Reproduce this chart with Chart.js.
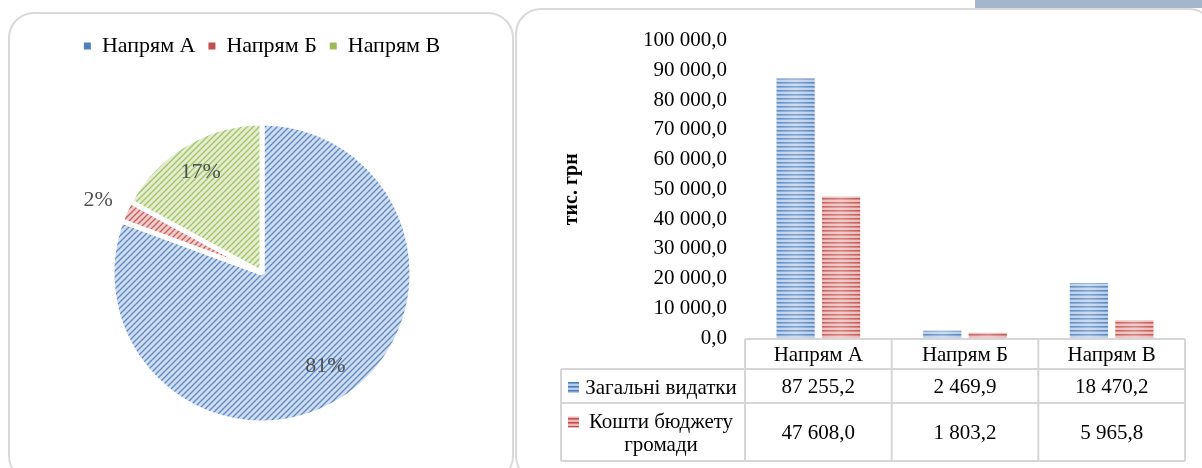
<!DOCTYPE html>
<html>
<head>
<meta charset="utf-8">
<script src="https://cdn.jsdelivr.net/npm/chart.js@4.4.1/dist/chart.umd.min.js"></script>
<style>
  html, body { margin:0; padding:0; background:#ffffff; width:1202px; height:468px; overflow:hidden; position:relative; }
  .panel { position:absolute; border:2px solid #d9d9d9; border-radius:26px; background:#fff; box-sizing:border-box; }
  #topbar { position:absolute; left:975px; top:0; width:227px; height:8px; background:#a3b6cc; }
  canvas { position:absolute; }
</style>
</head>
<body>
<div id="topbar"></div>
<div class="panel" style="left:8px; top:12px; width:506px; height:470px;"></div>
<div class="panel" style="left:515px; top:8px; width:700px; height:474px;"></div>
<canvas id="pie" width="500" height="454" style="left:12px; top:14px;"></canvas>
<canvas id="bar" width="684" height="458" style="left:518px; top:10px;"></canvas>
<script>
// ---------- DATA ----------
const categories = ['Напрям А', 'Напрям Б', 'Напрям В'];
const seriesNames = ['Загальні видатки', 'Кошти бюджету громади'];
const totalExpenses = [87255.2, 2469.9, 18470.2];
const communityBudget = [47608.0, 1803.2, 5965.8];
const yAxisTitle = 'тис. грн';
const yMin = 0;
const yMax = 100000;
const yStep = 10000;

// ---------- HELPERS ----------
const SERIF = "'Liberation Serif', 'Times New Roman', serif";
function fmt(v) {
  const p = Math.abs(v).toFixed(1).split('.');
  return p[0].replace(/\B(?=(\d{3})+(?!\d))/g, ' ') + ',' + p[1];
}
function diagPattern(ctx, bg, fg) {
  const c = document.createElement('canvas'); c.width = 6; c.height = 6;
  const x = c.getContext('2d');
  x.fillStyle = bg; x.fillRect(0, 0, 6, 6);
  x.strokeStyle = fg; x.lineWidth = 1.3; x.lineCap = 'butt';
  x.beginPath();
  x.moveTo(-1, 7); x.lineTo(7, -1);
  x.moveTo(-1, 1); x.lineTo(1, -1);
  x.moveTo(5, 7); x.lineTo(7, 5);
  x.stroke();
  return ctx.createPattern(c, 'repeat');
}
function stripePattern(ctx, light, mid, dark) {
  const c = document.createElement('canvas'); c.width = 4; c.height = 4;
  const x = c.getContext('2d');
  x.fillStyle = light; x.fillRect(0, 0, 4, 4);
  x.fillStyle = dark; x.fillRect(0, 0, 4, 1);
  x.fillStyle = mid; x.fillRect(0, 1, 4, 1);
  return ctx.createPattern(c, 'repeat');
}

// ---------- PIE ----------
const pieCtx = document.getElementById('pie').getContext('2d');
const piePatterns = [
  diagPattern(pieCtx, '#d0ddf0', '#5a89c4'),
  diagPattern(pieCtx, '#f0cccb', '#c85e5b'),
  diagPattern(pieCtx, '#e3edcf', '#a3c266')
];
const legendColors = ['#4f81bd', '#c0504d', '#9bbb59'];
const labelFrac = [0.74, 1.2, 0.8];

new Chart(pieCtx, {
  type: 'pie',
  data: {
    labels: categories,
    datasets: [{
      data: totalExpenses,
      backgroundColor: piePatterns,
      borderColor: '#ffffff',
      borderWidth: 5,
      radius: 150
    }]
  },
  options: {
    responsive: false,
    animation: false,
    layout: { padding: { top: 8, bottom: 46, left: 0, right: 0 } },
    plugins: {
      tooltip: { enabled: false },
      legend: {
        position: 'top',
        labels: {
          font: { family: SERIF, size: 22 },
          color: '#595959',
          boxWidth: 7,
          boxHeight: 7,
          padding: 13,
          generateLabels(chart) {
            return chart.data.labels.map((l, i) => ({
              text: l, fillStyle: legendColors[i], strokeStyle: legendColors[i],
              lineWidth: 0, hidden: false, index: i
            }));
          }
        }
      }
    }
  },
  plugins: [{
    id: 'legendHeight',
    beforeInit(chart) {
      const orig = chart.legend.fit;
      chart.legend.fit = function () { orig.call(this); this.height = 102; };
    }
  }, {
    id: 'pieLabels',
    afterDatasetsDraw(chart) {
      const ctx = chart.ctx;
      const meta = chart.getDatasetMeta(0);
      const data = chart.data.datasets[0].data;
      const total = data.reduce((a, b) => a + b, 0);
      ctx.save();
      ctx.font = '22px ' + SERIF;
      ctx.fillStyle = '#505050';
      ctx.textAlign = 'center';
      ctx.textBaseline = 'middle';
      meta.data.forEach((arc, i) => {
        const mid = (arc.startAngle + arc.endAngle) / 2;
        const r = arc.outerRadius * labelFrac[i];
        ctx.fillText(Math.round(data[i] / total * 100) + '%', arc.x + Math.cos(mid) * r, arc.y + Math.sin(mid) * r + 2);
      });
      ctx.restore();
    }
  }]
});

// ---------- BAR ----------
const barCtx = document.getElementById('bar').getContext('2d');
const barPatterns = [
  stripePattern(barCtx, '#b8cde9', '#7aa0d2', '#4a7dbb'),
  stripePattern(barCtx, '#ebb8b7', '#d27d7b', '#bf4d4a')
];

const tableLayout = { rowH: [30, 34, 58], labelLeft: 43, border: '#d6d6d6' };

new Chart(barCtx, {
  type: 'bar',
  data: {
    labels: categories,
    datasets: [
      { label: seriesNames[0], data: totalExpenses, backgroundColor: barPatterns[0], borderWidth: 0, categoryPercentage: 0.62, barPercentage: 0.84 },
      { label: seriesNames[1], data: communityBudget, backgroundColor: barPatterns[1], borderWidth: 0, categoryPercentage: 0.62, barPercentage: 0.84 }
    ]
  },
  options: {
    responsive: false,
    animation: false,
    layout: { padding: { top: 23, bottom: 130, left: 42, right: 17 } },
    plugins: { legend: { display: false }, tooltip: { enabled: false } },
    scales: {
      x: { display: false },
      y: {
        min: yMin, max: yMax,
        grid: { display: false, drawTicks: false },
        border: { display: false },
        ticks: {
          stepSize: yStep,
          padding: 18,
          color: '#000000',
          font: { family: SERIF, size: 21 },
          callback: (v) => fmt(v)
        },
        title: {
          display: true, text: yAxisTitle, color: '#000000',
          font: { family: SERIF, size: 20, weight: 'bold' },
          padding: { top: 0, bottom: 0 }
        },
        afterFit(scale) { scale.width = 185; }
      }
    }
  },
  plugins: [{
    id: 'barShade',
    afterDatasetsDraw(chart) {
      const ctx = chart.ctx;
      chart.data.datasets.forEach((ds, di) => {
        chart.getDatasetMeta(di).data.forEach((el) => {
          const p = el.getProps(['x', 'y', 'base', 'width'], true);
          const l = p.x - p.width / 2;
          const g = ctx.createLinearGradient(l, 0, l + p.width, 0);
          g.addColorStop(0, 'rgba(255,255,255,0.1)');
          g.addColorStop(0.5, 'rgba(255,255,255,0.3)');
          g.addColorStop(1, 'rgba(255,255,255,0.05)');
          ctx.fillStyle = g;
          ctx.fillRect(l, p.y, p.width, p.base - p.y);
        });
      });
    }
  }, {
    id: 'dataTable',
    afterDraw(chart) {
      const ctx = chart.ctx;
      const xs = chart.scales.x;
      const area = chart.chartArea;
      const n = chart.data.labels.length;
      const colW = (area.right - area.left) / n;
      const top = area.bottom + 1;
      const rows = [top];
      tableLayout.rowH.forEach(h => rows.push(rows[rows.length - 1] + h));
      const L = tableLayout.labelLeft;
      ctx.save();
      ctx.strokeStyle = tableLayout.border;
      ctx.lineWidth = 2;
      ctx.beginPath();
      ctx.moveTo(area.left, rows[0]); ctx.lineTo(area.right, rows[0]);
      for (let r = 1; r < rows.length; r++) { ctx.moveTo(L, rows[r]); ctx.lineTo(area.right, rows[r]); }
      for (let c = 0; c <= n; c++) {
        const x = area.left + c * colW;
        ctx.moveTo(x, rows[0]); ctx.lineTo(x, rows[rows.length - 1]);
      }
      ctx.moveTo(L, rows[1]); ctx.lineTo(L, rows[rows.length - 1]);
      ctx.stroke();

      ctx.font = '21px ' + SERIF;
      ctx.fillStyle = '#000000';
      ctx.textAlign = 'center';
      ctx.textBaseline = 'middle';
      chart.data.labels.forEach((lab, i) => {
        ctx.fillText(lab, xs.getPixelForValue(i), (rows[0] + rows[1]) / 2 + 1);
      });
      chart.data.datasets.forEach((ds, di) => {
        const cy = (rows[di + 1] + rows[di + 2]) / 2 + 1;
        ds.data.forEach((v, i) => ctx.fillText(fmt(v), xs.getPixelForValue(i), cy));
        const textL = L + 22, textR = area.left - 6;
        const maxW = textR - textL;
        const words = ds.label.split(' ');
        const lines = [];
        let cur = '';
        words.forEach(w => {
          const t = cur ? cur + ' ' + w : w;
          if (ctx.measureText(t).width > maxW && cur) { lines.push(cur); cur = w; } else { cur = t; }
        });
        lines.push(cur);
        const lh = 23;
        const firstY = cy - (lines.length - 1) * lh / 2 + 1;
        const tcx = (textL + textR) / 2;
        lines.forEach((ln, k) => ctx.fillText(ln, tcx, firstY + k * lh));
        const kx = L + 7, ky = firstY - 6;
        ctx.fillStyle = barPatterns[di];
        ctx.fillRect(kx, ky, 11, 11);
        ctx.fillStyle = '#000000';
      });
      ctx.restore();
    }
  }]
});
</script>
</body>
</html>
